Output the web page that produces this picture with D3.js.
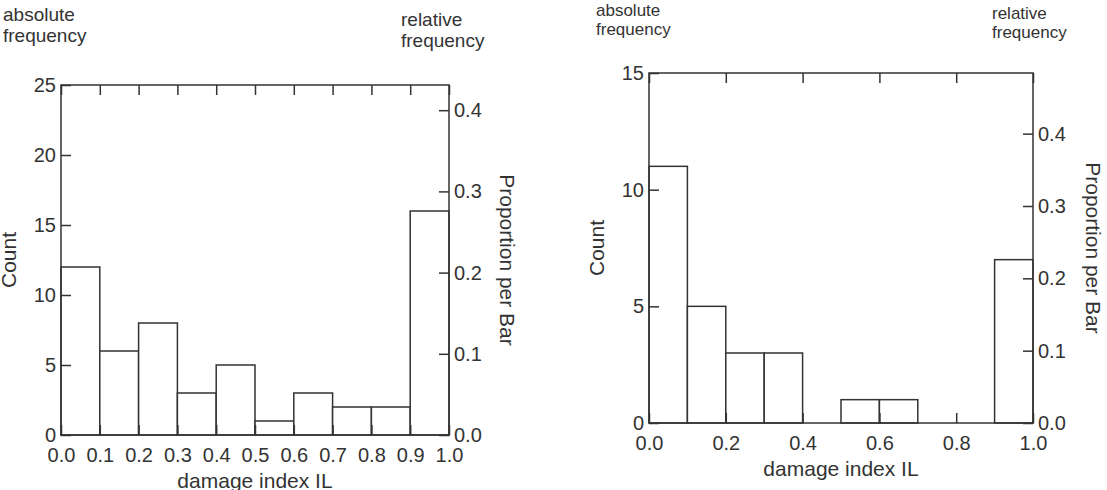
<!DOCTYPE html>
<html>
<head>
<meta charset="utf-8">
<script src="https://cdn.jsdelivr.net/npm/d3@7"></script>
<style>
  body { margin: 0; background: #fff; }
  text { font-family: "Liberation Sans", Arial, Helvetica, sans-serif; fill: #333; }
</style>
</head>
<body>
<script>
//Data
var binEdges = [0.0, 0.1, 0.2, 0.3, 0.4, 0.5, 0.6, 0.7, 0.8, 0.9, 1.0];
var countsLeft  = [12, 6, 8, 3, 5, 1, 3, 2, 2, 16];
var countsRight = [11, 5, 3, 3, 0, 1, 1, 0, 0, 7];

var countTicksLeft  = [0, 5, 10, 15, 20, 25];
var countTicksRight = [0, 5, 10, 15];
var propTicks = [0.0, 0.1, 0.2, 0.3, 0.4];
var xTicksLeft  = [0.0, 0.1, 0.2, 0.3, 0.4, 0.5, 0.6, 0.7, 0.8, 0.9, 1.0];
var xTicksRight = [0.0, 0.2, 0.4, 0.6, 0.8, 1.0];

var lineColor = "#333";

var svg = d3.select("body")
  .append("svg")
  .attr("width", 1107)
  .attr("height", 490);

function drawPanel(p){
  var n = d3.sum(p.counts);
  var countMax = d3.max(p.countTicks);

  var x = d3.scaleLinear().domain([0, 1]).range([p.left, p.right]);
  var y = d3.scaleLinear().domain([0, countMax]).range([p.bottom, p.top]);
  var yProp = d3.scaleLinear().domain([0, countMax / n]).range([p.bottom, p.top]);

  var g = svg.append("g");

  //bars
  var bins = p.counts.map(function(c, i){ return {x0: binEdges[i], x1: binEdges[i+1], count: c}; })
    .filter(function(d){ return d.count > 0; });

  g.selectAll("rect.bar").data(bins).enter()
    .append("rect")
    .attr("class", "bar")
    .attr("x", function(d){ return x(d.x0); })
    .attr("y", function(d){ return y(d.count); })
    .attr("width", function(d){ return x(d.x1) - x(d.x0); })
    .attr("height", function(d){ return y(0) - y(d.count); })
    .attr("fill", "#fff")
    .attr("stroke", lineColor)
    .attr("stroke-width", 1.5);

  //axes, ticks point inwards
  var fmt = d3.format(".1f");

  var bottom = g.append("g")
    .attr("transform", "translate(0," + p.bottom + ")")
    .call(d3.axisBottom(x).tickValues(p.xTicks).tickFormat(fmt).tickSize(-10).tickPadding(13));

  var top = g.append("g")
    .attr("transform", "translate(0," + p.top + ")")
    .call(d3.axisTop(x).tickValues(p.xTicks).tickFormat("").tickSize(-10));

  var leftAx = g.append("g")
    .attr("transform", "translate(" + p.left + ",0)")
    .call(d3.axisLeft(y).tickValues(p.countTicks).tickFormat(d3.format("d")).tickSize(-10).tickPadding(5));

  var rightAx = g.append("g")
    .attr("transform", "translate(" + p.right + ",0)")
    .call(d3.axisRight(yProp).tickValues(propTicks).tickFormat(fmt).tickSize(-10).tickPadding(5));

  [bottom, top, leftAx, rightAx].forEach(function(a){
    a.select(".domain").remove();
    a.selectAll("line").attr("stroke", lineColor).attr("stroke-width", 1.5);
    a.selectAll("text").attr("font-size", 20).attr("fill", "#333")
      .style("font-family", "'Liberation Sans', Arial, sans-serif");
  });

  //frame
  g.append("rect")
    .attr("x", p.left)
    .attr("y", p.top)
    .attr("width", p.right - p.left)
    .attr("height", p.bottom - p.top)
    .attr("fill", "none")
    .attr("stroke", lineColor)
    .attr("stroke-width", 1.5);

  //axis titles
  g.append("text")
    .attr("x", (p.left + p.right) / 2)
    .attr("y", p.bottom + 53)
    .attr("text-anchor", "middle")
    .attr("font-size", 21)
    .text("damage index IL");

  g.append("text")
    .attr("transform", "translate(" + p.countX + "," + (p.top + p.bottom) / 2 + ") rotate(-90)")
    .attr("text-anchor", "middle")
    .attr("font-size", 21)
    .text("Count");

  g.append("text")
    .attr("transform", "translate(" + p.propX + "," + (p.top + p.bottom) / 2 + ") rotate(90)")
    .attr("text-anchor", "middle")
    .attr("font-size", 21)
    .text("Proportion per Bar");

  //corner notes
  p.notes.forEach(function(nt){
    var t = g.append("text")
      .attr("x", nt.x)
      .attr("y", nt.y)
      .attr("font-size", p.noteSize);
    t.append("tspan").attr("x", nt.x).text(nt.lines[0]);
    t.append("tspan").attr("x", nt.x).attr("dy", p.noteSize * 1.1).text(nt.lines[1]);
  });
}

drawPanel({
  counts: countsLeft, countTicks: countTicksLeft, xTicks: xTicksLeft,
  left: 61, right: 449, top: 85, bottom: 435,
  countX: 16, propX: 500, noteSize: 19,
  notes: [{x: 3, y: 21, lines: ["absolute", "frequency"]},
          {x: 401, y: 26, lines: ["relative", "frequency"]}]
});

drawPanel({
  counts: countsRight, countTicks: countTicksRight, xTicks: xTicksRight,
  left: 649, right: 1033, top: 73, bottom: 423,
  countX: 604, propX: 1086, noteSize: 17,
  notes: [{x: 596, y: 16, lines: ["absolute", "frequency"]},
          {x: 992, y: 19, lines: ["relative", "frequency"]}]
});
</script>
</body>
</html>
